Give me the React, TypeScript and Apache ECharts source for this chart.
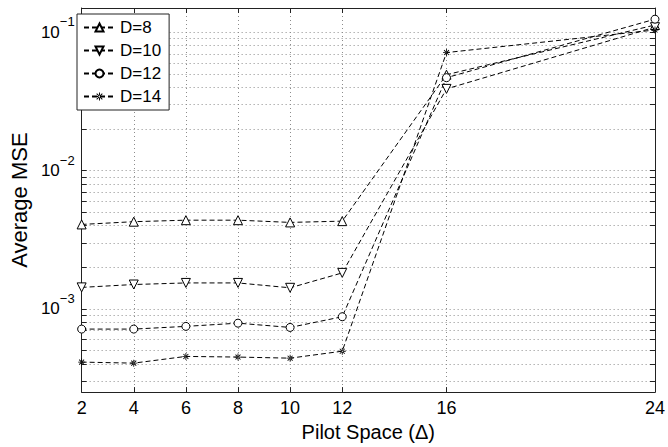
import React, { useEffect, useRef } from "react";
import * as echarts from "echarts";

const pilotSpace = [2, 4, 6, 8, 10, 12, 16, 24];
const xTickValues = [2, 4, 6, 8, 10, 12, 16, 24];
const mseD8 = [4.08e-3, 4.27e-3, 4.38e-3, 4.38e-3, 4.22e-3, 4.31e-3, 0.0494, 0.113];
const mseD10 = [1.43e-3, 1.5e-3, 1.54e-3, 1.54e-3, 1.42e-3, 1.82e-3, 0.039, 0.109];
const mseD12 = [7.14e-4, 7.14e-4, 7.47e-4, 7.88e-4, 7.34e-4, 8.77e-4, 0.047, 0.1245];
const mseD14 = [4.12e-4, 4.05e-4, 4.53e-4, 4.48e-4, 4.4e-4, 4.94e-4, 0.0714, 0.104];
const seriesNames = ["D=8", "D=10", "D=12", "D=14"];
const yMajorTicks = [1e-3, 1e-2, 1e-1];
const yMinorMultipliers = [1, 2, 3, 4, 5, 6, 7, 8, 9];
const yMin = 2.5e-4;
const yMax = 0.15;

const STAR =
  "path://M-0.6,-5 L0.6,-5 L0.6,5 L-0.6,5 Z M-5,-0.6 L5,-0.6 L5,0.6 L-5,0.6 Z M3.12,3.96 L3.96,3.12 L-3.12,-3.96 L-3.96,-3.12 Z M3.96,-3.12 L3.12,-3.96 L-3.96,3.12 L-3.12,3.96 Z";

const FONT = "'Liberation Sans', Arial, Helvetica, sans-serif";

export default function App() {
  const ref = useRef<HTMLDivElement>(null);
  useEffect(() => {
    if (!ref.current) return;
    const chart = echarts.init(ref.current, null, { renderer: "svg" });

    const yTicks: number[] = [];
    [1e-4, 1e-3, 1e-2, 1e-1].forEach((dec) => {
      yMinorMultipliers.forEach((m) => {
        const v = +(dec * m).toPrecision(3);
        if (v >= yMin && v <= yMax) yTicks.push(v);
      });
    });

    const mk = (vals: number[]) => pilotSpace.map((x, i) => [x, vals[i]]);
    const dash = [5, 3];
    const common = {
      type: "line" as const,
      xAxisIndex: 0,
      yAxisIndex: 0,
      lineStyle: { color: "#000", width: 1, type: dash },
      itemStyle: { color: "#fff", borderColor: "#000", borderWidth: 1 },
      showAllSymbol: true,
    };

    const axisLineStyle = { color: "#222", width: 1 };
    const gridLine = { show: true, lineStyle: { color: "#8c8c8c", width: 1, type: [1, 3] } };

    chart.setOption({
      animation: false,
      grid: { left: 72, right: 10, top: 8, bottom: 52, containLabel: false },
      legend: {
        left: 77,
        top: 14,
        orient: "vertical",
        backgroundColor: "#fff",
        borderColor: "#222",
        borderWidth: 1,
        padding: [5, 8, 5, 6],
        itemGap: 6,
        itemWidth: 31,
        itemHeight: 10,
        textStyle: { fontFamily: FONT, fontSize: 17, color: "#000", lineHeight: 16 },
        data: seriesNames,
      },
      xAxis: [
        {
          type: "value",
          min: 2,
          max: 24,
          name: "Pilot Space (Δ)",
          nameLocation: "middle",
          nameGap: 18,
          nameTextStyle: { fontFamily: FONT, fontSize: 20, color: "#000" },
          axisLine: { show: true, lineStyle: axisLineStyle },
          axisTick: { show: true, inside: true, length: 5, customValues: xTickValues, lineStyle: axisLineStyle },
          axisLabel: {
            customValues: xTickValues,
            margin: 7,
            fontFamily: FONT,
            fontSize: 18,
            color: "#000",
          },
          splitLine: gridLine,
        },
        {
          type: "value",
          position: "top",
          min: 2,
          max: 24,
          axisLine: { show: true, lineStyle: axisLineStyle },
          axisTick: { show: true, inside: true, length: 5, customValues: xTickValues, lineStyle: axisLineStyle },
          axisLabel: { show: false },
          splitLine: { show: false },
        },
      ],
      yAxis: [
        {
          type: "log",
          logBase: 10,
          min: yMin,
          max: yMax,
          name: "Average MSE",
          nameLocation: "middle",
          nameGap: 37,
          nameTextStyle: { fontFamily: FONT, fontSize: 22, color: "#000" },
          axisLine: { show: true, lineStyle: axisLineStyle },
          axisTick: { show: true, inside: true, length: 5, customValues: yTicks, lineStyle: axisLineStyle },
          axisLabel: {
            customValues: yMajorTicks,
            margin: 7,
            formatter: (v: number) => {
              const e = Math.round(Math.log10(v));
              return "{b|10}{s|" + (e < 0 ? "−" + -e : String(e)) + "}";
            },
            rich: {
              b: { fontFamily: FONT, fontSize: 17, color: "#000", lineHeight: 34 },
              s: { fontFamily: FONT, fontSize: 13, color: "#000", lineHeight: 13, verticalAlign: "top" },
            },
          },
          splitLine: gridLine,
        },
        {
          type: "log",
          logBase: 10,
          min: yMin,
          max: yMax,
          position: "right",
          axisLine: { show: true, lineStyle: axisLineStyle },
          axisTick: { show: true, inside: true, length: 5, customValues: yTicks, lineStyle: axisLineStyle },
          axisLabel: { show: false },
          splitLine: { show: false },
        },
      ],
      series: [
        { ...common, name: seriesNames[0], data: mk(mseD8), symbol: "triangle", symbolSize: 9 },
        { ...common, name: seriesNames[1], data: mk(mseD10), symbol: "triangle", symbolRotate: 180, symbolSize: 9 },
        { ...common, name: seriesNames[2], data: mk(mseD12), symbol: "circle", symbolSize: 8 },
        {
          ...common,
          name: seriesNames[3],
          data: mk(mseD14),
          symbol: STAR,
          symbolSize: 7,
          itemStyle: { color: "#000", borderWidth: 0 },
        },
      ],
    });
    return () => chart.dispose();
  }, []);
  return (
    <div
      ref={ref}
      style={{ position: "fixed", left: 0, top: 0, width: 668, height: 447, background: "#fff" }}
    />
  );
}
